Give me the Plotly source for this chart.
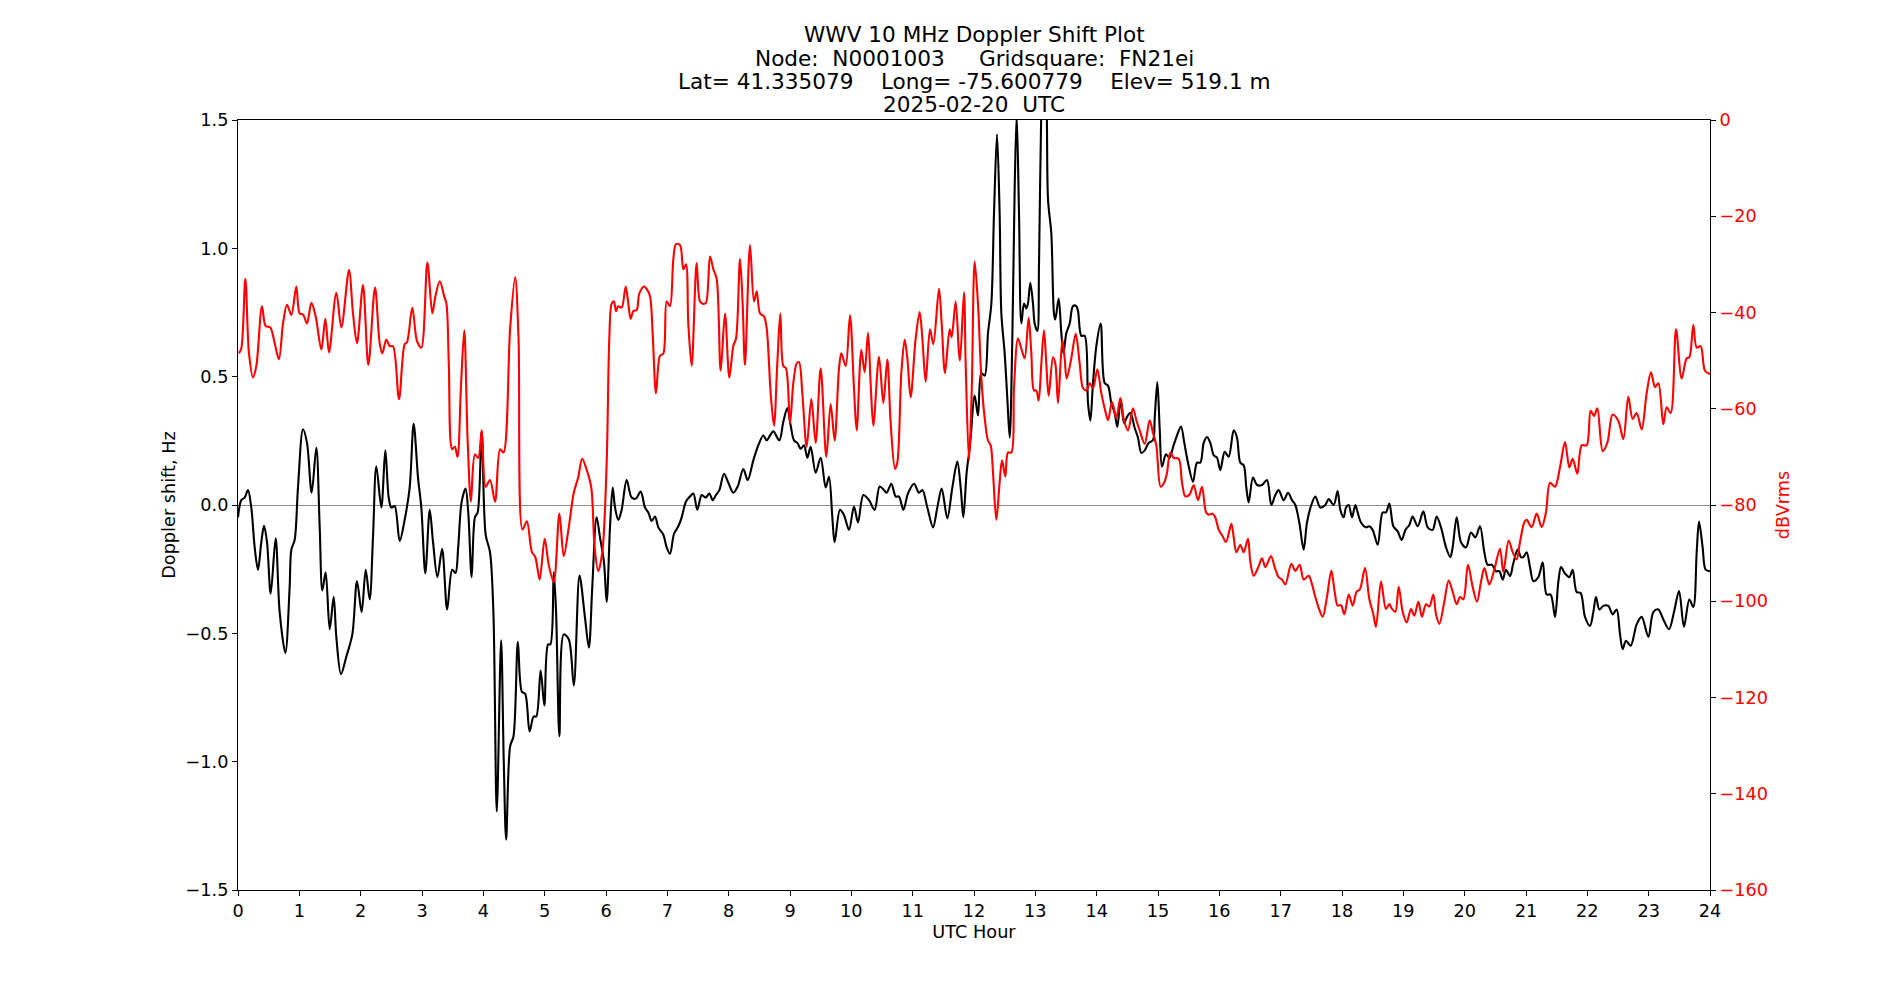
import plotly.graph_objects as go

# ---------------- data ----------------
doppler_hours = [
    0.000, 0.054, 0.109, 0.163, 0.217, 0.272, 0.326, 0.380, 0.424, 0.473, 0.533, 0.614, 0.679, 0.772, 0.842,
    0.870, 0.924, 0.978, 1.060, 1.125, 1.201, 1.277, 1.332, 1.375, 1.429, 1.495, 1.560, 1.603, 1.679, 1.766,
    1.864, 1.940, 2.016, 2.082, 2.147, 2.201, 2.255, 2.337, 2.402, 2.457, 2.500, 2.554, 2.636, 2.717, 2.799,
    2.864, 2.935, 2.989, 3.054, 3.126, 3.180, 3.251, 3.328, 3.410, 3.492, 3.546, 3.590, 3.645, 3.710, 3.754,
    3.809, 3.863, 3.907, 3.973, 4.038, 4.109, 4.164, 4.219, 4.290, 4.333, 4.372, 4.437, 4.492, 4.563, 4.628,
    4.683, 4.754, 4.820, 4.863, 4.934, 4.995, 5.055, 5.093, 5.148, 5.186, 5.240, 5.311, 5.393, 5.475, 5.568,
    5.656, 5.721, 5.776, 5.847, 5.902, 5.967, 6.011, 6.065, 6.109, 6.147, 6.201, 6.255, 6.337, 6.418, 6.489,
    6.565, 6.636, 6.690, 6.745, 6.799, 6.853, 6.935, 6.989, 7.043, 7.109, 7.179, 7.234, 7.304, 7.370, 7.424,
    7.489, 7.560, 7.625, 7.685, 7.739, 7.793, 7.848, 7.924, 7.995, 8.076, 8.147, 8.239, 8.310, 8.402, 8.484,
    8.565, 8.620, 8.674, 8.728, 8.826, 8.891, 8.957, 9.011, 9.065, 9.120, 9.174, 9.228, 9.283, 9.337, 9.418,
    9.500, 9.582, 9.636, 9.690, 9.728, 9.815, 9.880, 9.962, 10.043, 10.109, 10.196, 10.288, 10.380, 10.462,
    10.533, 10.576, 10.652, 10.723, 10.777, 10.848, 10.924, 11.022, 11.103, 11.158, 11.239, 11.332, 11.402,
    11.473, 11.565, 11.647, 11.728, 11.783, 11.826, 11.880, 11.935, 12.011, 12.065, 12.120, 12.174, 12.228,
    12.283, 12.326, 12.375, 12.418, 12.446, 12.500, 12.543, 12.582, 12.625, 12.663, 12.696, 12.734, 12.772,
    12.815, 12.853, 12.880, 12.918, 12.962, 12.989, 13.033, 13.060, 13.098, 13.141, 13.185, 13.207, 13.261,
    13.304, 13.326, 13.380, 13.424, 13.457, 13.505, 13.560, 13.614, 13.668, 13.696, 13.750, 13.804, 13.859,
    13.897, 13.940, 13.995, 14.065, 14.130, 14.185, 14.239, 14.293, 14.337, 14.391, 14.446, 14.495, 14.549,
    14.620, 14.674, 14.728, 14.783, 14.848, 14.918, 14.946, 14.989, 15.027, 15.065, 15.130, 15.185, 15.255,
    15.310, 15.375, 15.429, 15.489, 15.571, 15.636, 15.690, 15.745, 15.799, 15.853, 15.908, 15.962, 16.016,
    16.087, 16.152, 16.234, 16.288, 16.342, 16.397, 16.440, 16.478, 16.549, 16.614, 16.696, 16.777, 16.848,
    16.913, 16.967, 17.049, 17.120, 17.185, 17.239, 17.304, 17.375, 17.429, 17.500, 17.565, 17.647, 17.728,
    17.783, 17.864, 17.929, 17.973, 18.027, 18.065, 18.109, 18.163, 18.217, 18.255, 18.310, 18.391, 18.446,
    18.500, 18.582, 18.663, 18.717, 18.772, 18.837, 18.908, 18.973, 19.033, 19.098, 19.152, 19.234, 19.326,
    19.397, 19.478, 19.543, 19.614, 19.696, 19.766, 19.804, 19.870, 19.940, 20.022, 20.103, 20.174, 20.250,
    20.321, 20.375, 20.446, 20.511, 20.565, 20.620, 20.674, 20.739, 20.793, 20.864, 20.918, 20.957, 21.011,
    21.065, 21.120, 21.201, 21.272, 21.337, 21.402, 21.473, 21.527, 21.571, 21.636, 21.707, 21.761, 21.826,
    21.891, 21.962, 22.043, 22.098, 22.141, 22.196, 22.261, 22.342, 22.413, 22.478, 22.533, 22.576, 22.630,
    22.707, 22.804, 22.886, 22.995, 23.076, 23.158, 23.239, 23.332, 23.413, 23.495, 23.576, 23.663, 23.728,
    23.783, 23.821, 23.880, 23.929, 24.000,
]
doppler_hz = [
    -0.048, 0.019, 0.029, 0.058, -0.010, -0.165, -0.252, -0.145, -0.081, -0.145, -0.345, -0.130, -0.417, -0.576, -0.320,
    -0.174, -0.136, 0.068, 0.295, 0.242, 0.048, 0.223, -0.087, -0.333, -0.262, -0.484, -0.359, -0.514, -0.659, -0.591,
    -0.504, -0.297, -0.417, -0.252, -0.368, -0.126, 0.151, -0.010, 0.213, 0.029, -0.010, -0.004, -0.140, -0.058, 0.068,
    0.316, 0.107, -0.010, -0.266, -0.019, -0.145, -0.281, -0.171, -0.407, -0.252, -0.265, -0.165, 0.010, 0.064, -0.029,
    -0.281, -0.048, -0.029, 0.287, -0.116, -0.184, -0.417, -1.194, -0.527, -0.998, -1.304, -0.940, -0.901, -0.533, -0.727,
    -0.736, -0.882, -0.824, -0.824, -0.645, -0.781, -0.543, -0.543, -0.262, -0.417, -0.901, -0.504, -0.523, -0.703, -0.275,
    -0.436, -0.556, -0.320, -0.048, -0.126, -0.223, -0.378, -0.087, 0.068, -0.010, -0.058, -0.019, 0.097, 0.029, 0.025,
    0.052, -0.010, -0.029, -0.062, -0.045, -0.087, -0.116, -0.165, -0.190, -0.112, -0.083, -0.048, 0.014, 0.033, 0.045,
    -0.019, 0.039, 0.029, 0.045, 0.019, 0.039, 0.058, 0.122, 0.087, 0.048, 0.072, 0.140, 0.097, 0.174, 0.233,
    0.271, 0.252, 0.271, 0.287, 0.252, 0.324, 0.378, 0.310, 0.252, 0.242, 0.219, 0.233, 0.184, 0.227, 0.126,
    0.184, 0.068, 0.110, -0.048, -0.145, -0.019, -0.039, -0.097, -0.006, -0.068, 0.039, 0.019, -0.019, 0.072,
    0.058, 0.048, 0.083, 0.033, 0.033, -0.019, 0.045, 0.083, 0.048, 0.058, -0.010, -0.087, -0.010,
    0.064, -0.052, 0.068, 0.169, 0.068, -0.048, 0.126, 0.233, 0.426, 0.349, 0.514, 0.504, 0.669,
    0.785, 1.134, 1.444, 1.134, 0.746, 0.591, 0.417, 0.262, 0.649, 1.231, 1.520, 1.134, 0.707,
    0.785, 0.766, 0.785, 0.866, 0.785, 0.707, 0.678, 0.940, 1.550, 1.850, 1.550, 1.190, 1.056,
    0.746, 0.723, 0.804, 0.669, 0.591, 0.669, 0.707, 0.775, 0.775, 0.756, 0.659, 0.659, 0.397,
    0.329, 0.475, 0.620, 0.707, 0.475, 0.465, 0.397, 0.359, 0.304, 0.413, 0.320, 0.343, 0.359,
    0.300, 0.262, 0.203, 0.213, 0.242, 0.252, 0.339, 0.479, 0.300, 0.149, 0.198, 0.184, 0.233,
    0.271, 0.306, 0.242, 0.165, 0.091, 0.165, 0.165, 0.242, 0.265, 0.242, 0.194, 0.184, 0.136,
    0.207, 0.188, 0.291, 0.262, 0.165, 0.155, 0.068, 0.010, 0.107, 0.078, 0.078, 0.097, 0.000,
    0.039, 0.058, 0.019, 0.048, 0.019, 0.000, -0.068, -0.174, -0.068, 0.000, 0.033, -0.010, 0.000,
    0.023, 0.000, 0.054, -0.019, -0.048, -0.010, 0.000, -0.048, 0.000, -0.029, -0.068, -0.087, -0.083,
    -0.097, -0.155, -0.029, -0.029, 0.006, -0.083, -0.103, -0.136, -0.097, -0.078, -0.045, -0.083, -0.025,
    -0.087, -0.097, -0.045, -0.087, -0.165, -0.203, -0.165, -0.048, -0.145, -0.165, -0.107, -0.126, -0.083,
    -0.184, -0.233, -0.233, -0.258, -0.258, -0.291, -0.252, -0.277, -0.227, -0.174, -0.203, -0.203, -0.184,
    -0.242, -0.297, -0.281, -0.223, -0.349, -0.349, -0.436, -0.300, -0.242, -0.267, -0.281, -0.252, -0.339,
    -0.343, -0.436, -0.471, -0.417, -0.359, -0.407, -0.393, -0.393, -0.426, -0.407, -0.504, -0.562, -0.529,
    -0.548, -0.465, -0.436, -0.514, -0.417, -0.407, -0.446, -0.484, -0.417, -0.335, -0.475, -0.368, -0.397,
    -0.184, -0.064, -0.165, -0.252, -0.258,
]

power_hours = [
    0.016, 0.054, 0.120, 0.179, 0.245, 0.299, 0.391, 0.451, 0.527, 0.598, 0.668, 0.734, 0.799, 0.870, 0.951,
    1.005, 1.060, 1.125, 1.196, 1.266, 1.359, 1.424, 1.484, 1.603, 1.685, 1.810, 1.875, 1.940, 2.038, 2.125,
    2.234, 2.310, 2.353, 2.418, 2.473, 2.527, 2.625, 2.717, 2.755, 2.842, 2.918, 2.989, 3.087, 3.169, 3.219,
    3.290, 3.361, 3.399, 3.437, 3.492, 3.536, 3.579, 3.634, 3.689, 3.743, 3.798, 3.863, 3.918, 3.973, 4.038,
    4.109, 4.191, 4.273, 4.328, 4.437, 4.519, 4.574, 4.639, 4.710, 4.792, 4.847, 4.918, 5.000, 5.066, 5.148,
    5.240, 5.311, 5.393, 5.475, 5.546, 5.612, 5.678, 5.760, 5.814, 5.874, 5.940, 6.011, 6.054, 6.092, 6.130,
    6.163, 6.201, 6.255, 6.321, 6.364, 6.402, 6.446, 6.500, 6.543, 6.620, 6.663, 6.717, 6.761, 6.815, 6.880,
    6.935, 6.989, 7.043, 7.098, 7.141, 7.207, 7.261, 7.304, 7.342, 7.397, 7.478, 7.533, 7.587, 7.630, 7.696,
    7.750, 7.804, 7.870, 7.940, 8.011, 8.076, 8.120, 8.185, 8.228, 8.266, 8.348, 8.413, 8.457, 8.511, 8.576,
    8.620, 8.685, 8.739, 8.793, 8.842, 8.891, 8.935, 9.000, 9.054, 9.109, 9.147, 9.201, 9.272, 9.348, 9.418,
    9.500, 9.592, 9.663, 9.728, 9.799, 9.837, 9.908, 9.978, 10.043, 10.087, 10.163, 10.217, 10.272, 10.315,
    10.359, 10.451, 10.522, 10.587, 10.641, 10.712, 10.750, 10.815, 10.870, 10.913, 10.967, 11.049, 11.114,
    11.158, 11.212, 11.283, 11.337, 11.429, 11.473, 11.527, 11.603, 11.636, 11.701, 11.755, 11.772, 11.837,
    11.864, 11.918, 11.962, 12.011, 12.065, 12.120, 12.174, 12.228, 12.272, 12.310, 12.364, 12.418, 12.457,
    12.511, 12.554, 12.609, 12.652, 12.717, 12.772, 12.826, 12.891, 12.935, 12.978, 13.016, 13.054, 13.098,
    13.141, 13.179, 13.217, 13.288, 13.326, 13.370, 13.440, 13.478, 13.511, 13.587, 13.658, 13.723, 13.777,
    13.832, 13.886, 13.940, 14.011, 14.076, 14.130, 14.185, 14.250, 14.321, 14.386, 14.446, 14.511, 14.592,
    14.647, 14.701, 14.783, 14.864, 14.918, 14.973, 15.043, 15.109, 15.147, 15.201, 15.255, 15.337, 15.391,
    15.446, 15.511, 15.582, 15.652, 15.717, 15.783, 15.826, 15.891, 15.935, 15.989, 16.054, 16.109, 16.196,
    16.234, 16.277, 16.342, 16.397, 16.467, 16.505, 16.560, 16.630, 16.696, 16.750, 16.842, 16.902, 16.967,
    17.022, 17.076, 17.174, 17.239, 17.310, 17.375, 17.457, 17.511, 17.565, 17.620, 17.685, 17.755, 17.826,
    17.880, 17.929, 17.984, 18.038, 18.109, 18.174, 18.239, 18.293, 18.375, 18.446, 18.511, 18.554, 18.636,
    18.717, 18.772, 18.815, 18.870, 18.924, 18.989, 19.054, 19.125, 19.179, 19.245, 19.304, 19.370, 19.424,
    19.489, 19.533, 19.587, 19.668, 19.739, 19.804, 19.870, 19.924, 19.978, 20.054, 20.130, 20.201, 20.266,
    20.321, 20.402, 20.484, 20.576, 20.630, 20.717, 20.783, 20.848, 20.902, 20.973, 21.011, 21.092, 21.174,
    21.255, 21.326, 21.391, 21.473, 21.554, 21.636, 21.707, 21.761, 21.837, 21.908, 21.989, 22.054, 22.109,
    22.163, 22.250, 22.326, 22.413, 22.505, 22.587, 22.668, 22.739, 22.804, 22.886, 22.967, 23.038, 23.103,
    23.158, 23.239, 23.293, 23.359, 23.446, 23.538, 23.620, 23.663, 23.728, 23.783, 23.848, 23.918, 24.000,
]
power_dbvrms = [
    -48.5, -47.5, -33.0, -48.5, -53.5, -51.1, -38.7, -42.8, -43.1, -46.4, -49.7, -42.3, -38.4, -40.5, -34.6,
    -40.2, -40.4, -42.3, -38.0, -40.8, -47.7, -41.3, -48.3, -35.9, -43.1, -31.2, -40.2, -46.4, -34.3, -50.9,
    -34.8, -46.4, -48.5, -45.6, -47.0, -47.0, -58.0, -46.6, -46.2, -39.0, -45.9, -47.3, -29.6, -40.2, -36.6,
    -33.5, -36.6, -38.2, -50.6, -68.4, -67.9, -70.0, -55.7, -43.7, -66.1, -79.3, -69.5, -70.2, -64.5, -76.2,
    -74.8, -79.3, -68.4, -69.1, -43.3, -32.7, -45.4, -85.1, -83.4, -89.8, -90.8, -95.5, -87.0, -92.4, -96.0,
    -81.8, -90.6, -84.6, -77.4, -74.3, -70.4, -72.4, -76.4, -88.8, -93.7, -89.8, -71.2, -45.4, -38.2, -37.7,
    -39.7, -38.7, -39.0, -34.6, -38.2, -41.3, -39.7, -39.5, -36.1, -34.6, -35.1, -36.6, -44.4, -56.8, -49.0,
    -48.5, -37.7, -38.7, -28.9, -25.8, -26.0, -31.0, -30.0, -42.3, -51.1, -29.7, -37.7, -38.2, -38.0, -28.4,
    -31.0, -33.0, -52.1, -40.2, -53.5, -46.9, -45.4, -28.9, -38.2, -50.9, -26.0, -37.7, -35.6, -40.2, -40.8,
    -43.3, -56.8, -63.5, -50.6, -40.2, -51.1, -51.6, -63.0, -54.7, -50.6, -50.3, -56.8, -67.9, -58.0, -67.1,
    -51.6, -70.0, -59.0, -66.6, -51.6, -48.5, -51.1, -40.6, -55.7, -64.5, -47.8, -52.4, -44.2, -54.7,
    -63.5, -49.2, -58.8, -49.8, -62.9, -72.5, -71.2, -52.6, -45.6, -49.5, -57.6, -45.4, -39.9,
    -45.4, -54.4, -43.5, -46.6, -35.1, -42.3, -52.6, -43.5, -45.1, -37.7, -48.5, -50.0, -35.8,
    -50.6, -70.7, -56.8, -29.4, -38.2, -53.7, -61.9, -66.6, -67.6, -73.3, -83.1, -75.3, -70.7,
    -74.1, -69.1, -69.1, -55.7, -45.4, -47.5, -49.5, -41.1, -48.5, -56.2, -56.2, -58.3, -50.6,
    -43.7, -50.6, -57.3, -49.3, -50.6, -58.8, -45.6, -49.5, -53.7, -49.5, -44.4, -50.6, -55.7,
    -56.2, -54.7, -55.7, -51.8, -56.8, -59.9, -62.4, -58.6, -61.9, -57.8, -62.4, -64.5, -59.9,
    -62.4, -64.5, -67.3, -62.4, -65.0, -67.6, -76.2, -75.1, -73.3, -69.1, -70.2, -70.4, -75.3,
    -78.2, -77.9, -75.9, -79.0, -76.2, -81.5, -82.0, -81.8, -82.6, -85.1, -86.5, -87.7, -83.9,
    -86.7, -89.8, -88.3, -89.8, -87.0, -91.8, -94.7, -93.1, -91.1, -92.9, -90.6, -92.9, -95.0,
    -95.5, -96.5, -92.2, -93.7, -92.4, -95.5, -94.7, -96.5, -99.1, -101.4, -103.2, -99.1, -93.6,
    -98.0, -100.9, -100.8, -102.7, -98.6, -100.9, -98.0, -97.5, -93.1, -99.6, -102.7, -105.3, -95.9,
    -101.6, -100.6, -101.6, -102.2, -97.0, -102.2, -104.4, -101.6, -103.0, -100.1, -103.2, -100.6, -101.1,
    -98.6, -102.7, -104.7, -100.1, -95.7, -98.0, -100.6, -99.1, -99.6, -92.4, -97.0, -100.1, -96.0,
    -93.1, -96.5, -93.4, -89.1, -93.9, -87.4, -89.8, -91.3, -87.7, -83.6, -83.1, -84.6, -81.8,
    -84.6, -81.5, -75.4, -76.2, -72.2, -66.9, -72.2, -70.4, -73.5, -67.6, -67.6, -60.4, -61.5,
    -59.9, -68.8, -67.1, -61.2, -62.5, -66.3, -57.5, -62.1, -60.9, -64.3, -56.8, -52.4, -55.5,
    -54.7, -63.2, -59.7, -60.9, -43.5, -53.7, -49.5, -49.3, -42.6, -47.3, -47.0, -52.1, -52.8,
]

x_ticks = list(range(0, 25))
doppler_ticks = [-1.5, -1.0, -0.5, 0.0, 0.5, 1.0, 1.5]
power_ticks = [-160, -140, -120, -100, -80, -60, -40, -20, 0]

title_lines = [
    "WWV 10 MHz Doppler Shift Plot",
    "Node:  N0001003     Gridsquare:  FN21ei",
    "Lat= 41.335079    Long= -75.600779    Elev= 519.1 m",
    "2025-02-20  UTC",
]

# ---------------- figure ----------------
FONT = "DejaVu Sans"
TICK_SIZE = 17.7
TITLE_SIZE = 21.6
fig = go.Figure()

fig.add_trace(go.Scatter(
    x=doppler_hours, y=doppler_hz, mode="lines",
    line=dict(color="black", width=2.1, shape="spline", smoothing=0.9),
    yaxis="y", showlegend=False, hoverinfo="skip",
))
fig.add_trace(go.Scatter(
    x=power_hours, y=power_dbvrms, mode="lines",
    line=dict(color="#ff0000", width=2.1, shape="spline", smoothing=0.9),
    yaxis="y2", showlegend=False, hoverinfo="skip",
))

fig.update_layout(
    width=1900, height=1000,
    margin=dict(l=238, r=190, t=120, b=110, pad=0),
    paper_bgcolor="white", plot_bgcolor="white",
    font=dict(family=FONT, size=TICK_SIZE, color="black"),
    xaxis=dict(
        range=[0, 24], tickvals=x_ticks, ticktext=[str(v) for v in x_ticks],
        showgrid=False, zeroline=False,
        showline=True, linecolor="black", linewidth=1, mirror=True,
        ticks="outside", ticklen=5, tickwidth=1, tickcolor="black",
        tickfont=dict(family=FONT, size=TICK_SIZE, color="black"),
        title=dict(text="UTC Hour", font=dict(family=FONT, size=TICK_SIZE, color="black"), standoff=5),
    ),
    yaxis=dict(
        range=[-1.5, 1.5], tickvals=doppler_ticks,
        ticktext=[("\u2212" if v < 0 else "") + f"{abs(v):.1f}" for v in doppler_ticks],
        showgrid=False,
        zeroline=True, zerolinecolor="#8c8c8c", zerolinewidth=1,
        showline=True, linecolor="black", linewidth=1,
        ticks="outside", ticklen=5, tickwidth=1, tickcolor="black",
        tickfont=dict(family=FONT, size=TICK_SIZE, color="black"),
        title=dict(text="Doppler shift, Hz", font=dict(family=FONT, size=TICK_SIZE, color="black"), standoff=5),
    ),
    yaxis2=dict(
        range=[-160, 0], tickvals=power_ticks,
        ticktext=[("\u2212" if v < 0 else "") + f"{abs(v)}" for v in power_ticks],
        overlaying="y", side="right", anchor="x",
        showgrid=False, zeroline=False,
        showline=True, linecolor="black", linewidth=1,
        ticks="outside", ticklen=5, tickwidth=1, tickcolor="black",
        tickfont=dict(family=FONT, size=TICK_SIZE, color="#ff0000"),
        title=dict(text="dBVrms", font=dict(family=FONT, size=TICK_SIZE, color="#ff0000"), standoff=9),
    ),
)

line_y_px = [35, 58, 81, 104]
for txt, ypx in zip(title_lines, line_y_px):
    fig.add_annotation(
        text=txt.replace(" ", "\u00a0"), xref="paper", yref="paper",
        x=0.5, y=(890 - ypx) / 770, xanchor="center", yanchor="middle",
        showarrow=False, font=dict(family=FONT, size=TITLE_SIZE, color="black"),
    )

fig.write_html("out.html")
